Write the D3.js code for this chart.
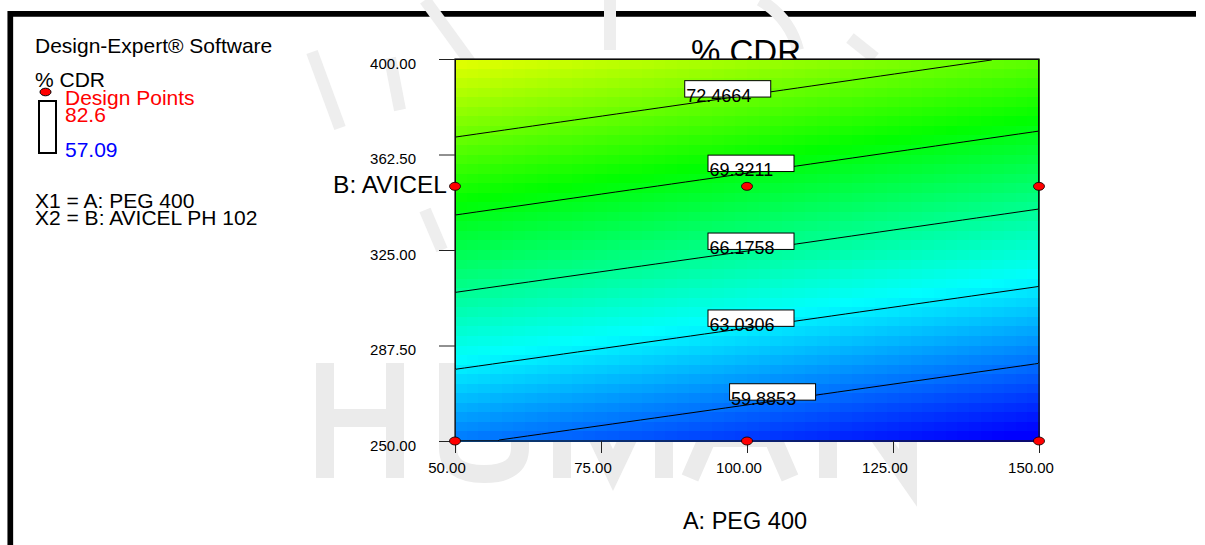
<!DOCTYPE html>
<html>
<head>
<meta charset="utf-8">
<script src="https://cdn.jsdelivr.net/npm/d3@7"></script>
<style>
  html, body { margin: 0; background: #fff; overflow: hidden; }
  svg { display: block; font-family: Arial, "Liberation Sans", sans-serif; }
</style>
</head>
<body>
<div id="chart"></div>
<script>
// factor levels and fitted % CDR at each level (rows = AVICEL levels, cols = PEG levels)
var pegLevels = [50, 100, 150]
var avicelLevels = [250, 325, 400]
var cdrGrid = [
  [60.10, 58.41, 56.71],
  [67.91, 66.22, 64.52],
  [75.62, 73.93, 72.23]
]
var contourLevels = [59.8853, 63.0306, 66.1758, 69.3211, 72.4664]
// design points (A, B)
var designA = [50, 100, 150, 50, 100, 150]
var designB = [250, 250, 250, 350, 350, 350]
var xTicks = [50, 75, 100, 125, 150]
var yTicks = [250, 287.5, 325, 362.5, 400]
var cdrRange = [57.09, 82.6]

var width = 1205,
    height = 545

var svg = d3.select("#chart")
  .append("svg")
    .attr("width", width)
    .attr("height", height)

// plot area
var x = d3.scaleLinear().domain([50, 150]).range([455, 1039])
var y = d3.scaleLinear().domain([250, 400]).range([441, 59])

// blue -> cyan -> green -> yellow -> red over the response range
var color = d3.scaleLinear()
  .domain(d3.range(5).map(function(i) { return cdrRange[0] + i * (cdrRange[1] - cdrRange[0]) / 4 }))
  .range(["#0000ff", "#00ffff", "#00ff00", "#ffff00", "#ff0000"])
  .clamp(true)

// bilinear lookup in the level grid
var aIdx = d3.scaleLinear().domain(pegLevels).range([0, 1, 2])
var bIdx = d3.scaleLinear().domain(avicelLevels).range([0, 1, 2])
function cdrAt(a, b) {
  var fa = aIdx(a), fb = bIdx(b)
  var i = Math.min(Math.floor(fa), 1), j = Math.min(Math.floor(fb), 1)
  var u = fa - i, v = fb - j
  var r0 = cdrGrid[j][i] + (cdrGrid[j][i + 1] - cdrGrid[j][i]) * u
  var r1 = cdrGrid[j + 1][i] + (cdrGrid[j + 1][i + 1] - cdrGrid[j + 1][i]) * u
  return r0 + (r1 - r0) * v
}

// outer frame: only the top and left sides are inside the picture
svg.append("path")
  .attr("d", "M10.3," + height + "V13.8H1196")
  .attr("fill", "none")
  .attr("stroke", "#000")
  .attr("stroke-width", 5.7)

// faint background watermark, drawn as strokes
var wm = svg.append("g")
  .attr("fill", "none")
  .attr("stroke", "#ebebeb")
  .attr("stroke-width", 18)
var marks = [
  "M325,363V478M395,363V478M325,418H395",
  "M448,363V448Q448,474 484,474Q520,474 520,448V363",
  "M562,478V363L613,470L664,363V478",
  "M690,478L740,363L790,478M708,438H772",
  "M828,478V363L908,478V363"
]
wm.selectAll("path")
  .data(marks)
  .enter()
  .append("path")
    .attr("d", function(d) { return d })

var logo = svg.append("g")
  .attr("fill", "none")
  .attr("stroke", "#eeeeee")
  .attr("stroke-width", 12)
var logoMarks = [
  "M312,52L340,128",
  "M390,58L400,110",
  "M425,0L470,62",
  "M610,0V50",
  "M760,0Q790,18 798,50",
  "M850,38L875,58",
  "M425,210L442,250"
]
logo.selectAll("path")
  .data(logoMarks)
  .enter()
  .append("path")
    .attr("d", function(d) { return d })

// title (sits behind the plot)
svg.append("text")
  .attr("x", 746).attr("y", 63)
  .attr("text-anchor", "middle")
  .style("font-size", "33px")
  .text("% CDR")

// colour raster
var x0 = x.range()[0], x1 = x.range()[1], y0 = y.range()[1], y1 = y.range()[0]
var nx = 50, ny = 40
var cw = (x1 - x0) / nx, ch = (y1 - y0) / ny
var cells = []
for (var j = 0; j < ny; j++) {
  for (var i = 0; i < nx; i++) {
    cells.push({ i: i, j: j, v: cdrAt(x.invert(x0 + (i + 0.5) * cw), y.invert(y0 + (j + 0.5) * ch)) })
  }
}
svg.append("g")
  .selectAll("rect")
  .data(cells)
  .enter()
  .append("rect")
    .attr("x", function(d) { return x0 + d.i * cw })
    .attr("y", function(d) { return y0 + d.j * ch })
    .attr("width", cw + 0.6)
    .attr("height", ch + 0.6)
    .attr("fill", function(d) { return color(d.v) })
    .attr("shape-rendering", "crispEdges")

// contour lines on a finer grid
var nc = 292, mc = 191
var gw = (x1 - x0) / nc, gh = (y1 - y0) / mc
var values = new Array(nc * mc)
for (var j = 0; j < mc; j++) {
  for (var i = 0; i < nc; i++) {
    values[j * nc + i] = cdrAt(x.invert(x0 + (i + 0.5) * gw), y.invert(y0 + (j + 0.5) * gh))
  }
}
var contours = d3.contours().size([nc, mc]).thresholds(contourLevels)(values)
var toPx = d3.geoTransform({
  point: function(px, py) { this.stream.point(x0 + px * gw, y0 + py * gh) }
})
var path = d3.geoPath(toPx)

svg.append("clipPath").attr("id", "plotClip")
  .append("rect")
    .attr("x", x0).attr("y", y0)
    .attr("width", x1 - x0).attr("height", y1 - y0)

svg.append("g")
  .attr("clip-path", "url(#plotClip)")
  .selectAll("path")
  .data(contours)
  .enter()
  .append("path")
    .attr("d", path)
    .attr("fill", "none")
    .attr("stroke", "#000")
    .attr("stroke-width", 1)

// plot border
svg.append("rect")
  .attr("x", x0).attr("y", y0)
  .attr("width", x1 - x0).attr("height", y1 - y0)
  .attr("fill", "none")
  .attr("stroke", "#111")
  .attr("stroke-width", 1.2)

// contour labels near the middle of each line
var labels = svg.append("g")
contours.forEach(function(c) {
  var pts = []
  c.coordinates.forEach(function(poly) {
    poly.forEach(function(ring) {
      ring.forEach(function(p) {
        if (p[0] > 0.01 && p[0] < nc - 0.01 && p[1] > 0.01 && p[1] < mc - 0.01) {
          pts.push([x0 + p[0] * gw, y0 + p[1] * gh])
        }
      })
    })
  })
  if (!pts.length) return
  pts.sort(function(a, b) { return a[0] - b[0] })
  var midX = (pts[0][0] + pts[pts.length - 1][0]) / 2
  var k = d3.bisector(function(p) { return p[0] }).left(pts, midX)
  var p = pts[Math.min(k, pts.length - 1)]
  var bx = midX - 39, bBottom = p[1] - 1.5
  labels.append("rect")
    .attr("x", bx).attr("y", bBottom - 16.4)
    .attr("width", 86).attr("height", 16.4)
    .attr("fill", "#fff")
    .attr("stroke", "#000")
    .attr("stroke-width", 1)
  labels.append("text")
    .attr("x", bx + 1.5).attr("y", bBottom + 4.5)
    .style("font-size", "18px")
    .text(c.value.toFixed(4))
})

// axes
var fmt = d3.format(".2f")
var yAxis = svg.append("g")
  .attr("transform", "translate(" + x0 + ",0)")
  .call(d3.axisLeft(y).tickValues(yTicks).tickFormat(fmt).tickSize(16).tickPadding(23))
yAxis.select(".domain").remove()
yAxis.selectAll("line").attr("stroke", "#222")
yAxis.selectAll("text")
  .attr("dy", "0.6em")
  .style("font-size", "15px")
  .style("font-family", "Arial, 'Liberation Sans', sans-serif")
  .attr("fill", "#000")

var xAxis = svg.append("g")
  .attr("transform", "translate(0," + y1 + ")")
  .call(d3.axisBottom(x).tickValues(xTicks).tickFormat(fmt).tickSize(12).tickPadding(9))
xAxis.select(".domain").remove()
xAxis.selectAll("line").attr("stroke", "#222")
xAxis.selectAll("text")
  .attr("dx", "-8.5")
  .style("font-size", "15px")
  .style("font-family", "Arial, 'Liberation Sans', sans-serif")
  .attr("fill", "#000")

// axis titles
svg.append("text")
  .attr("x", 447).attr("y", 193)
  .attr("text-anchor", "end")
  .style("font-size", "24.5px")
  .text("B: AVICEL")
svg.append("text")
  .attr("x", 745).attr("y", 529)
  .attr("text-anchor", "middle")
  .style("font-size", "23.5px")
  .text("A: PEG 400")

// design points
svg.append("g")
  .selectAll("ellipse")
  .data(d3.range(designA.length))
  .enter()
  .append("ellipse")
    .attr("cx", function(i) { return x(designA[i]) })
    .attr("cy", function(i) { return y(designB[i]) })
    .attr("rx", 5.5)
    .attr("ry", 4)
    .attr("fill", "#ff0000")
    .attr("stroke", "#000")
    .attr("stroke-width", 0.8)

// side legend
var leg = svg.append("g").style("font-size", "21px")
leg.append("text").attr("x", 35).attr("y", 53).text("Design-Expert\u00ae Software")
leg.append("text").attr("x", 35).attr("y", 87).text("% CDR")
leg.append("ellipse")
  .attr("cx", 45.5).attr("cy", 92)
  .attr("rx", 5.5).attr("ry", 3.8)
  .attr("fill", "#ff0000").attr("stroke", "#000").attr("stroke-width", 1)
leg.append("text").attr("x", 65).attr("y", 105).attr("fill", "#ff0000").text("Design Points")
leg.append("rect")
  .attr("x", 39).attr("y", 101)
  .attr("width", 17).attr("height", 52)
  .attr("fill", "#fff").attr("stroke", "#000").attr("stroke-width", 2)
leg.append("text").attr("x", 65).attr("y", 121.5).attr("fill", "#ff0000").text(cdrRange[1])
leg.append("text").attr("x", 65).attr("y", 156.5).attr("fill", "#0000ff").text(cdrRange[0])
leg.append("text").attr("x", 35).attr("y", 208).text("X1 = A: PEG 400")
leg.append("text").attr("x", 35).attr("y", 224.5).text("X2 = B: AVICEL PH 102")
</script>
</body>
</html>
